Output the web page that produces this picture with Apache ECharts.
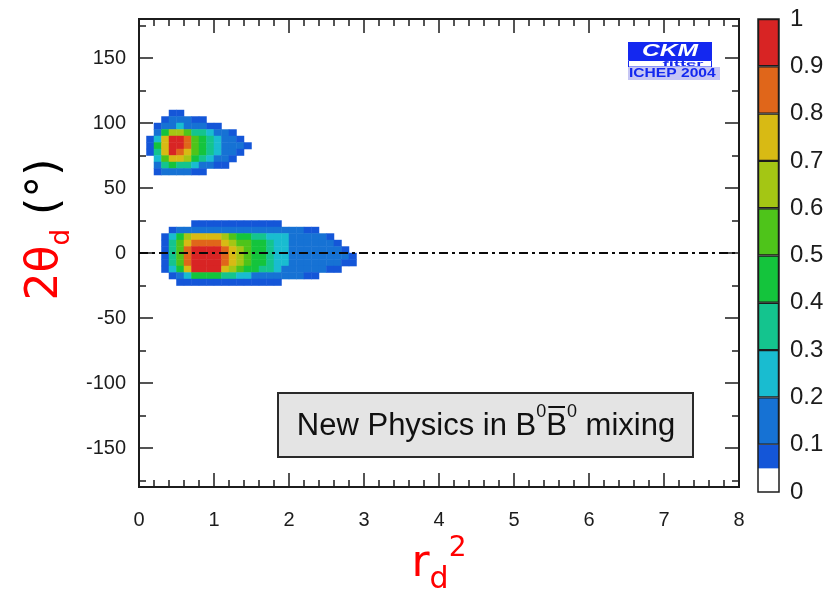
<!DOCTYPE html>
<html>
<head>
<meta charset="utf-8">
<script src="https://cdn.jsdelivr.net/npm/echarts@6/dist/echarts.min.js"></script>
<style>
  html, body { margin: 0; padding: 0; background: #ffffff; }
  #chart { width: 837px; height: 600px; }
</style>
</head>
<body>
<div id="chart"></div>
<script>
// ---- binning of the (r_d^2, 2θ_d) plane ----
const binDx = 0.1;          // r_d^2 bin width
const binDy = 5;            // 2θ_d bin height, degrees
const xRange = [0, 8];
const yRange = [-180, 180];

// ---- axis ticks ----
const yMajorTicks = [-150, -100, -50, 0, 50, 100, 150];
const yMinorTicks = [-175, -125, -75, -25, 25, 75, 125, 175];

// ---- colour scale (confidence level) ----
const levelEdges = [0, 0.05, 0.1, 0.2, 0.3, 0.4, 0.5, 0.6, 0.7, 0.8, 0.9, 1];
const levelColors = ['#ffffff', '#1456d8', '#1672d4', '#19bcd0', '#14c48e', '#14c43c',
                     '#4ec41a', '#a4c614', '#d8ba14', '#e0661a', '#d82424'];

// ---- solution near 2θ_d = +80° ----
// columns start at r_d^2 = 0.1, one column per bin; rows are given by their lower 2θ_d edge
const upperFirstX = 0.1;
const upperRowEdges = [105, 100, 95, 90, 85, 80, 75, 70, 65, 60];
const upperLevels = [
  [0,   0,   0,   .07, .07, 0,   0,   0,   0,   0,   0,   0,   0,   0  ],
  [0,   0,   .07, .15, .15, .15, .07, .07, 0,   0,   0,   0,   0,   0  ],
  [0,   .07, .15, .15, .25, .15, .15, .15, .07, .07, 0,   0,   0,   0  ],
  [0,   .15, .45, .65, .65, .55, .35, .35, .25, .15, .15, .07, 0,   0  ],
  [.07, .25, .75, .95, .95, .85, .55, .45, .35, .25, .15, .15, .07, 0  ],
  [.07, .45, .75, .95, .95, .85, .55, .45, .35, .25, .15, .15, .15, .07],
  [.07, .35, .75, .95, .85, .75, .55, .45, .35, .25, .15, .15, .07, 0  ],
  [0,   .25, .55, .75, .75, .65, .45, .35, .25, .15, .15, .07, 0,   0  ],
  [0,   .15, .35, .45, .35, .35, .25, .15, .15, .07, .07, 0,   0,   0  ],
  [0,   .07, .15, .15, .15, .15, .07, .07, 0,   0,   0,   0,   0,   0  ]
];

// ---- solution near 2θ_d = 0° ----
const lowerFirstX = 0.3;
const lowerRowEdges = [20, 15, 10, 5, 0, -5, -10, -15, -20, -25];
const lowerLevels = [
  [0,   0,   0,   0,   .07, .07, .07, .07, .07, .07, .07, .07, .07, .07, .07, .07, 0,   0,   0,   0,   0,   0,   0,   0,   0,   0  ],
  [0,   .07, .15, .15, .15, .15, .15, .15, .15, .15, .15, .15, .15, .15, .15, .15, .15, .15, .15, .07, .07, 0,   0,   0,   0,   0  ],
  [.07, .25, .45, .65, .75, .75, .75, .75, .65, .55, .45, .45, .35, .35, .25, .25, .25, .15, .15, .15, .15, .15, .07, 0,   0,   0  ],
  [.07, .35, .55, .75, .85, .85, .85, .85, .75, .65, .55, .55, .45, .45, .35, .25, .25, .15, .15, .15, .15, .15, .15, .07, 0,   0  ],
  [.07, .35, .55, .85, .95, .95, .95, .95, .85, .75, .65, .55, .45, .45, .35, .25, .25, .15, .15, .15, .15, .15, .15, .15, .07, 0  ],
  [.07, .35, .55, .85, .95, .95, .95, .95, .85, .75, .65, .55, .45, .45, .35, .25, .25, .15, .15, .15, .15, .15, .15, .15, .15, .07],
  [.07, .35, .55, .85, .95, .95, .95, .95, .85, .75, .65, .55, .45, .45, .35, .25, .25, .15, .15, .15, .15, .15, .15, .15, .07, .07],
  [.07, .25, .45, .75, .95, .95, .95, .95, .75, .65, .55, .45, .45, .35, .35, .25, .15, .15, .15, .15, .15, .15, .07, .07, 0,   0  ],
  [0,   .07, .15, .25, .45, .45, .45, .45, .35, .35, .25, .25, .15, .15, .15, .15, .15, .15, .15, .07, .07, 0,   0,   0,   0,   0  ],
  [0,   0,   .07, .07, .07, .07, .07, .07, .07, .07, .07, .07, .07, .07, .07, .07, 0,   0,   0,   0,   0,   0,   0,   0,   0,   0  ]
];

// reference line of the Standard Model, 2θ_d = 0
const refLineY = 0;

// caption and logo texts
const captionParts = ['New Physics in B', '0', 'B', '0', ' mixing'];
const logoTitle = 'CKM';
const logoSub = 'fitter';
const logoConf = 'ICHEP 2004';

// ---------------------------------------------------------------
const nxBins = Math.round((xRange[1] - xRange[0]) / binDx);
const nyBins = Math.round((yRange[1] - yRange[0]) / binDy);
const xCats = Array.from({ length: nxBins }, (_, i) => String(i));
const yCats = Array.from({ length: nyBins }, (_, j) => String(j));

function toCells(firstX, rowEdges, levels) {
  const out = [];
  levels.forEach((row, r) => {
    const yi = Math.round((rowEdges[r] - yRange[0]) / binDy);
    row.forEach((v, c) => {
      if (v > 0) out.push([Math.round(firstX / binDx) + c, yi, v]);
    });
  });
  return out;
}
const cells = toCells(upperFirstX, upperRowEdges, upperLevels)
  .concat(toCells(lowerFirstX, lowerRowEdges, lowerLevels));

const pieces = [];
for (let i = 1; i < levelColors.length; i++) {
  pieces.push({ gte: levelEdges[i], lt: i === levelColors.length - 1 ? 1.0001 : levelEdges[i + 1], color: levelColors[i] });
}

const labelFont = '"Liberation Sans", Arial, Helvetica, sans-serif';
const titleFont = '"DejaVu Sans", sans-serif';
const ink = '#1c1c1c';

const GRID = { left: 139, top: 19, width: 600, height: 473 };

const baseValueAxis = {
  type: 'value',
  gridIndex: 0,
  axisLine: { show: false, onZero: false },
  splitLine: { show: false },
  axisTick: { show: true, inside: true, length: 14, lineStyle: { color: ink, width: 1.5 } },
  axisLabel: { show: false }
};

// ---- caption geometry (overline on the second B) ----
const measureCtx = document.createElement('canvas').getContext('2d');
function textW(str, size) {
  measureCtx.font = size + 'px ' + labelFont;
  return measureCtx.measureText(str).width;
}
const capMain = 31, capSup = 18;
const capCx = 486, capCy = 426;
const partW = captionParts.map((p, i) => textW(p, i % 2 === 1 ? capSup : capMain));
const capTotal = partW.reduce((a, b) => a + b, 0);
const capLeft = capCx - capTotal / 2;
const barX1 = capLeft + partW[0] + partW[1] + 2;
const barX2 = barX1 + partW[2] - 4;

const option = {
  animation: false,
  backgroundColor: '#ffffff',
  grid: [
    { left: GRID.left, top: GRID.top, width: GRID.width, height: GRID.height,
      show: true, borderColor: ink, borderWidth: 2, backgroundColor: 'transparent' },
    { left: 758, top: GRID.top, width: 21, height: GRID.height, z: 5,
      show: true, borderColor: ink, borderWidth: 1.5, backgroundColor: 'transparent' }
  ],
  xAxis: [
    Object.assign({}, baseValueAxis, {
      position: 'bottom', min: xRange[0], max: xRange[1], interval: 1,
      minorTick: { show: true, splitNumber: 5, length: 7, lineStyle: { color: ink, width: 1.5 } },
      axisLabel: { show: true, fontSize: 20, color: ink, fontFamily: labelFont, margin: 23 },
      name: '{r|r}{d|d}{s|2}',
      nameLocation: 'middle',
      nameGap: 47,
      nameTextStyle: {
        rich: {
          r: { fontFamily: titleFont, fontSize: 44, color: '#ff0000', lineHeight: 60 },
          d: { fontFamily: titleFont, fontSize: 30, color: '#ff0000', verticalAlign: 'bottom', lineHeight: 30 },
          s: { fontFamily: titleFont, fontSize: 28, color: '#ff0000', verticalAlign: 'top', lineHeight: 28 }
        }
      }
    }),
    Object.assign({}, baseValueAxis, {
      position: 'top', min: xRange[0], max: xRange[1], interval: 1,
      minorTick: { show: true, splitNumber: 5, length: 7, lineStyle: { color: ink, width: 1.5 } }
    }),
    { type: 'category', gridIndex: 0, data: xCats, show: false, boundaryGap: true },
    { type: 'category', gridIndex: 1, data: [''], show: false, boundaryGap: true }
  ],
  yAxis: [
    Object.assign({}, baseValueAxis, {
      position: 'left', min: yRange[0], max: yRange[1],
      axisTick: { show: true, inside: true, length: 14, customValues: yMajorTicks, lineStyle: { color: ink, width: 1.5 } },
      axisLabel: { show: true, customValues: yMajorTicks, fontSize: 20, color: ink, fontFamily: labelFont, margin: 13 },
      name: '{a|2θ}{b|d}{c| (°)}',
      nameLocation: 'middle',
      nameRotate: 90,
      nameGap: 62,
      nameTextStyle: {
        padding: [0, 0, 0, 47],
        rich: {
          a: { fontFamily: titleFont, fontSize: 44, color: '#ff0000', lineHeight: 60 },
          b: { fontFamily: titleFont, fontSize: 26, color: '#ff0000', verticalAlign: 'bottom', lineHeight: 26 },
          c: { fontFamily: titleFont, fontSize: 44, color: '#000000', lineHeight: 60 }
        }
      }
    }),
    Object.assign({}, baseValueAxis, {
      position: 'left', min: yRange[0], max: yRange[1],
      axisTick: { show: true, inside: true, length: 7, customValues: yMinorTicks, lineStyle: { color: ink, width: 1.5 } }
    }),
    Object.assign({}, baseValueAxis, {
      position: 'right', min: yRange[0], max: yRange[1],
      axisTick: { show: true, inside: true, length: 14, customValues: yMajorTicks, lineStyle: { color: ink, width: 1.5 } }
    }),
    Object.assign({}, baseValueAxis, {
      position: 'right', min: yRange[0], max: yRange[1],
      axisTick: { show: true, inside: true, length: 7, customValues: yMinorTicks, lineStyle: { color: ink, width: 1.5 } }
    }),
    { type: 'category', gridIndex: 0, data: yCats, show: false, boundaryGap: true },
    {
      type: 'value', gridIndex: 1, position: 'right', min: 0, max: 1, interval: 0.1,
      axisLine: { show: false, onZero: false }, axisTick: { show: false }, splitLine: { show: false },
      axisLabel: { fontSize: 24, color: ink, fontFamily: labelFont, margin: 11 }
    }
  ],
  visualMap: {
    type: 'piecewise',
    show: false,
    seriesIndex: 0,
    dimension: 2,
    pieces: pieces
  },
  series: [
    {
      type: 'heatmap',
      xAxisIndex: 2,
      yAxisIndex: 4,
      data: cells,
      silent: true,
      itemStyle: { borderWidth: 0 }
    },
    {
      type: 'line',
      xAxisIndex: 0,
      yAxisIndex: 0,
      data: xRange.map(x => [x, refLineY]),
      symbol: 'none',
      silent: true,
      z: 4,
      lineStyle: { color: '#0a0a0a', width: 2, type: [9, 4, 3, 4] }
    }
  ].concat(levelColors.map((c, i) => ({
    type: 'bar',
    xAxisIndex: 3,
    yAxisIndex: 5,
    stack: 'scale',
    barWidth: '100%',
    silent: true,
    data: [levelEdges[i + 1] - levelEdges[i]],
    itemStyle: { color: c, borderColor: ink, borderWidth: levelEdges[i] >= 0.1 ? 1.2 : 0 }
  }))),
  graphic: {
    elements: [
      // CKMfitter logo
      { type: 'rect', z: 20, shape: { x: 628, y: 42, width: 84, height: 18 }, style: { fill: '#1428f0' } },
      { type: 'text', z: 21, x: 670, y: 51, scaleX: 1.45,
        style: { text: logoTitle, fill: '#ffffff', font: 'italic bold 17px ' + labelFont, align: 'center', verticalAlign: 'middle' } },
      { type: 'rect', z: 20, shape: { x: 628.5, y: 60.5, width: 83, height: 6.5 }, style: { fill: '#ffffff', stroke: '#1428f0', lineWidth: 1 } },
      { type: 'text', z: 21, x: 683, y: 64, scaleX: 2.3,
        style: { text: logoSub, fill: '#1428f0', font: 'bold 8px ' + labelFont, align: 'center', verticalAlign: 'middle' } },
      { type: 'rect', z: 20, shape: { x: 628, y: 67, width: 92, height: 13 }, style: { fill: '#c6c6f4' } },
      { type: 'text', z: 21, x: 629, y: 74, scaleX: 1.3,
        style: { text: logoConf, fill: '#1428f0', font: 'bold 12px ' + labelFont, align: 'left', verticalAlign: 'middle' } },

      // caption box
      { type: 'rect', z: 20, shape: { x: 278, y: 393, width: 415, height: 64 },
        style: { fill: '#e4e4e4', stroke: '#2a2a2a', lineWidth: 2 } },
      { type: 'text', z: 21, x: capCx, y: capCy,
        style: {
          text: '{n|' + captionParts[0] + '}{s|' + captionParts[1] + '}{n|' + captionParts[2] + '}{s|' + captionParts[3] + '}{n|' + captionParts[4] + '}',
          align: 'center', verticalAlign: 'middle',
          rich: {
            n: { fontFamily: labelFont, fontSize: capMain, fill: '#111111', lineHeight: 46 },
            s: { fontFamily: labelFont, fontSize: capSup, fill: '#111111', verticalAlign: 'top', lineHeight: 18 }
          }
        } },
      { type: 'line', z: 21, shape: { x1: barX1, y1: 407, x2: barX2, y2: 407 },
        style: { stroke: '#111111', lineWidth: 2 } }
    ]
  }
};

const chart = echarts.init(document.getElementById('chart'), null, { renderer: 'canvas' });
chart.setOption(option);
</script>
</body>
</html>
